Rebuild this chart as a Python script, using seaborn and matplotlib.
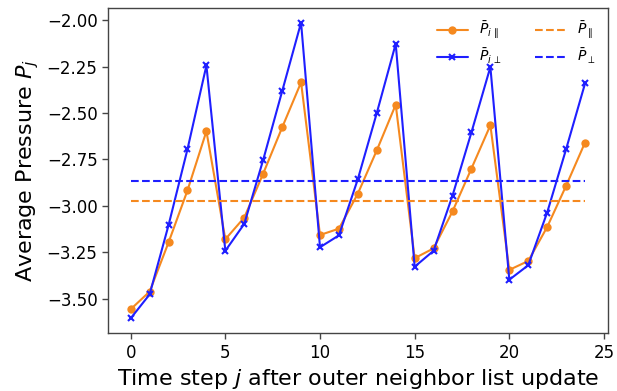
import numpy as np
import pandas as pd
import matplotlib
matplotlib.use("Agg")
import matplotlib.pyplot as plt
import seaborn as sns

sns.set_style("white")
plt.rcParams["font.family"] = ["DejaVu Sans"]
plt.rcParams["text.color"] = "black"
plt.rcParams["axes.labelcolor"] = "black"

# time steps after the outer neighbor list update
steps = list(range(25))

# per-step pressure, parallel and perpendicular components
p_par = [-3.557, -3.462, -3.197, -2.917, -2.598,
         -3.180, -3.063, -2.826, -2.578, -2.335,
         -3.157, -3.123, -2.934, -2.701, -2.455,
         -3.282, -3.229, -3.030, -2.799, -2.566,
         -3.345, -3.297, -3.114, -2.892, -2.659]
p_perp = [-3.606, -3.477, -3.104, -2.695, -2.244,
          -3.242, -3.097, -2.752, -2.383, -2.013,
          -3.223, -3.159, -2.856, -2.500, -2.127,
          -3.328, -3.242, -2.945, -2.604, -2.252,
          -3.398, -3.320, -3.036, -2.695, -2.341]

# time averages
mean_par = -2.972
mean_perp = -2.866

ORANGE = "#f5891f"
BLUE = "#1f1fff"

df = pd.DataFrame({"j": steps, "par": p_par, "perp": p_perp})

fig, ax = plt.subplots(figsize=(6.17, 3.91), dpi=100)

sns.lineplot(data=df, x="j", y="par", ax=ax, color=ORANGE, marker="o",
             markersize=6, markeredgewidth=0, lw=1.5,
             label=r"$\bar{P}_{i\,\parallel}$")
sns.lineplot(data=df, x="j", y="perp", ax=ax, color=BLUE, marker="x",
             markersize=4, markeredgewidth=1.5, markeredgecolor=BLUE, lw=1.5,
             label=r"$\bar{P}_{i\,\perp}$")
ax.plot([steps[0], steps[-1]], [mean_par, mean_par], "--", color=ORANGE,
        lw=1.5, label=r"$\bar{P}_\parallel$")
ax.plot([steps[0], steps[-1]], [mean_perp, mean_perp], "--", color=BLUE,
        lw=1.5, label=r"$\bar{P}_\perp$")

ax.set_xticks([0, 5, 10, 15, 20, 25])
ax.set_yticks([-3.5, -3.25, -3.0, -2.75, -2.5, -2.25, -2.0])
ax.tick_params(axis="both", labelsize=12, length=4, width=1, color="#444444",
               labelcolor="black", bottom=True, left=True)
for s in ax.spines.values():
    s.set_color("#444444")
    s.set_linewidth(1)

ax.set_xlabel("Time step $j$ after outer neighbor list update", fontsize=16)
ax.set_ylabel("Average Pressure $P_j$", fontsize=16)
ax.legend(ncol=2, frameon=False, fontsize=10, loc="upper right",
          handlelength=2.2, columnspacing=2.4, labelspacing=0.4)

fig.subplots_adjust(left=0.175, right=0.985, top=0.98, bottom=0.148)
fig.savefig("out.png", dpi=100)
